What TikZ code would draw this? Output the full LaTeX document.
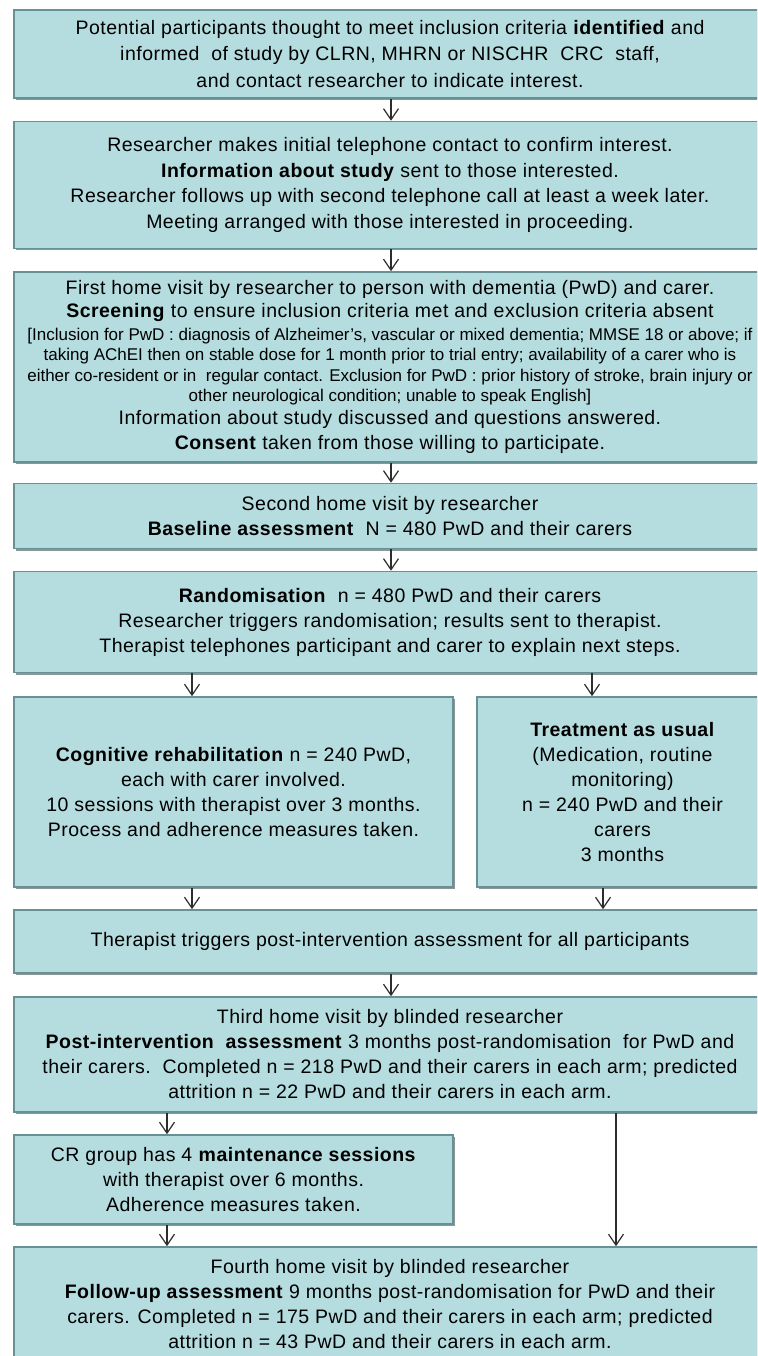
\documentclass[tikz,border=0pt]{standalone}
\usepackage{fontspec}
\setmainfont{Liberation Sans}[LetterSpace=2.5]
\newfontfamily\smallfnt{Liberation Sans}
\usetikzlibrary{arrows.meta,shadows}
\definecolor{boxfill}{RGB}{181,220,223}
\definecolor{boxline}{RGB}{102,146,150}
\definecolor{shadowcol}{RGB}{140,150,150}
\definecolor{arrcol}{RGB}{45,45,45}
\tikzset{
  box/.style={draw=boxline, line width=1.6pt, fill=boxfill, inner sep=0pt,
    align=center, font=\fontsize{19.5}{25}\selectfont,
    general shadow={fill=shadowcol, shadow xshift=1.5pt, shadow yshift=-2pt}},
  flowarrow/.style={draw=arrcol, line width=1.2pt, -{Straight Barb[length=11pt,width=15pt,line width=1.2pt]}}
}
\newcommand{\sm}{\smallfnt\fontsize{17}{20}\selectfont}
\begin{document}
\begin{tikzpicture}[x=1pt,y=-1pt]
\useasboundingbox (0,0) rectangle (757,1356);
\fill[white] (0,0) rectangle (757,1356);
\clip (0,0) rectangle (757,1356);

\node[box, minimum width=752pt, minimum height=88pt] (b1) at (390,54)
 {Potential participants thought to meet inclusion criteria \textbf{identified} and\\[1.5pt]
  informed\ \ of study by CLRN, MHRN or NISCHR\ \ CRC\ \ staff,\\[1.5pt]
  and contact researcher to indicate interest.};

\node[box, minimum width=752pt, minimum height=127pt] (b2) at (390,185)
 {Researcher makes initial telephone contact to confirm interest.\\[0.5pt]
  \textbf{Information about study} sent to those interested.\\[0.5pt]
  Researcher follows up with second telephone call at least a week later.\\[0.5pt]
  Meeting arranged with those interested in proceeding.};

\node[box, minimum width=752pt, minimum height=190pt] (b3) at (390,367)
 {First home visit by researcher to person with dementia (PwD) and carer.\\[-2pt]
  \textbf{Screening} to ensure inclusion criteria met and exclusion criteria absent\\[-2pt]
  \sm [Inclusion for PwD : diagnosis of Alzheimer’s, vascular or mixed dementia; MMSE 18 or above; if\\[-4.5pt]
  \sm taking AChEI then on stable dose for 1 month prior to trial entry; availability of a carer who is\\[-4.5pt]
  \sm either co-resident or in\ \ regular contact. Exclusion for PwD : prior history of stroke, brain injury or\\[-4.5pt]
  \sm other neurological condition; unable to speak English]\\[-2pt]
  Information about study discussed and questions answered.\\
  \textbf{Consent} taken from those willing to participate.};

\node[box, minimum width=752pt, minimum height=65pt] (b4) at (390,516)
 {Second home visit by researcher\\
  \textbf{Baseline assessment}\ \ N = 480 PwD and their carers};

\node[box, minimum width=752pt, minimum height=101pt] (b5) at (390,622)
 {\textbf{Randomisation}\ \ n = 480 PwD and their carers\\
  Researcher triggers randomisation; results sent to therapist.\\
  Therapist telephones participant and carer to explain next steps.};

\node[box, minimum width=439pt, minimum height=190pt] (b6) at (233.5,792)
 {\textbf{Cognitive rehabilitation} n = 240 PwD,\\
  each with carer involved.\\
  10 sessions with therapist over 3 months.\\
  Process and adherence measures taken.};

\node[box, minimum width=291pt, minimum height=190pt] (b7) at (622.5,792)
 {\textbf{Treatment as usual}\\
  (Medication, routine\\
  monitoring)\\
  n = 240 PwD and their\\
  carers\\
  3 months};

\node[box, minimum width=752pt, minimum height=63pt] (b8) at (390,941.5)
 {Therapist triggers post-intervention assessment for all participants};

\node[box, minimum width=752pt, minimum height=115pt] (b9) at (390,1054.5)
 {Third home visit by blinded researcher\\
  \textbf{Post-intervention\ \ assessment} 3 months post-randomisation\ \ for PwD and\\
  their carers.\ \ Completed n = 218 PwD and their carers in each arm; predicted\\
  attrition n = 22 PwD and their carers in each arm.};

\node[box, minimum width=439pt, minimum height=89pt] (b10) at (233.5,1179.5)
 {CR group has 4 \textbf{maintenance sessions}\\
  with therapist over 6 months.\\
  Adherence measures taken.};

\node[box, minimum width=752pt, minimum height=115pt] (b11) at (390,1304.5)
 {Fourth home visit by blinded researcher\\
  \textbf{Follow-up assessment} 9 months post-randomisation for PwD and their\\
  carers. Completed n = 175 PwD and their carers in each arm; predicted\\
  attrition n = 43 PwD and their carers in each arm.};

\coordinate (mx) at (391,0);
\coordinate (lx) at (192,0);
\coordinate (rx) at (592,0);
\coordinate (rx2) at (603,0);
\coordinate (llx) at (167,0);
\coordinate (rrx) at (616,0);

\draw[flowarrow] (b1.south -| mx) -- (b2.north -| mx);
\draw[flowarrow] (b2.south -| mx) -- (b3.north -| mx);
\draw[flowarrow] (b3.south -| mx) -- (b4.north -| mx);
\draw[flowarrow] (b4.south -| mx) -- (b5.north -| mx);
\draw[flowarrow] (b5.south -| lx) -- (b6.north -| lx);
\draw[flowarrow] (b5.south -| rx) -- (b7.north -| rx);
\draw[flowarrow] (b6.south -| lx) -- (b8.north -| lx);
\draw[flowarrow] (b7.south -| rx2) -- (b8.north -| rx2);
\draw[flowarrow] (b8.south -| mx) -- (b9.north -| mx);
\draw[flowarrow] (b9.south -| llx) -- (b10.north -| llx);
\draw[flowarrow] (b9.south -| rrx) -- (b11.north -| rrx);
\draw[flowarrow] (b10.south -| llx) -- (b11.north -| llx);
\end{tikzpicture}
\end{document}
